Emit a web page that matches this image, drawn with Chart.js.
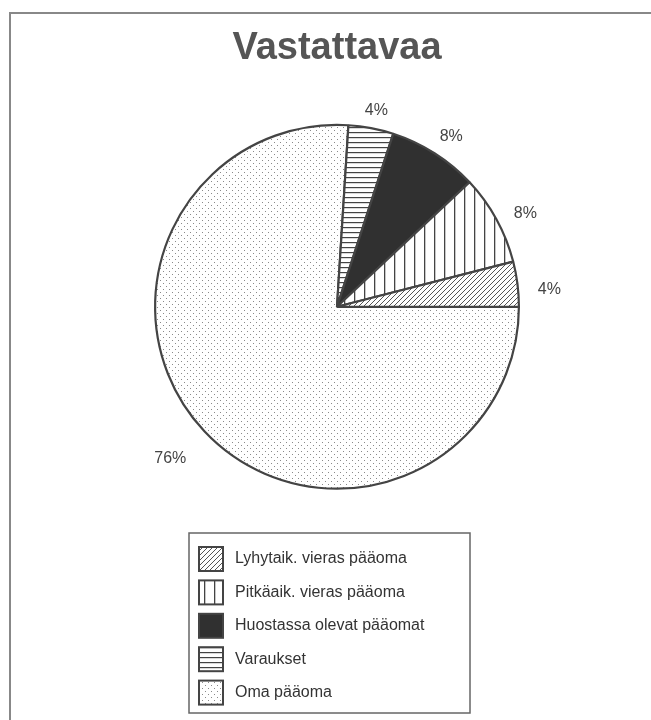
<!DOCTYPE html>
<html>
<head>
<meta charset="utf-8">
<script src="https://cdn.jsdelivr.net/npm/chart.js@4.4.1/dist/chart.umd.min.js"></script>
<style>
body { margin: 0; background: #fff; }
canvas { display: block; }
</style>
</head>
<body>
<canvas id="graph" width="651" height="720"></canvas>
<script>
// legend order (top to bottom)
const categories = ['Lyhytaik. vieras pääoma', 'Pitkäaik. vieras pääoma', 'Huostassa olevat pääomat', 'Varaukset', 'Oma pääoma'];
const shares = [4, 8, 8, 4, 76]; // %
const fills = ['diagonal', 'vertical', 'solid', 'horizontal', 'dots'];

const ink = '#444';
const font = '"Liberation Sans", Arial, sans-serif';

function makePattern(kind) {
    const size = {diagonal: 5, vertical: 10, solid: 4, horizontal: 5, dots: 6}[kind];
    const tile = document.createElement('canvas');
    tile.width = size;
    tile.height = size;
    const c = tile.getContext('2d');
    c.fillStyle = kind == 'solid' ? '#303030' : '#fff';
    c.fillRect(0, 0, size, size);
    c.strokeStyle = '#555';
    c.fillStyle = '#8a8a8a';
    c.lineWidth = 1;
    if (kind == 'diagonal') {
        c.beginPath();
        c.moveTo(0, size); c.lineTo(size, 0);
        c.moveTo(-1, 1); c.lineTo(1, -1);
        c.moveTo(size - 1, size + 1); c.lineTo(size + 1, size - 1);
        c.stroke();
    } else if (kind == 'vertical') {
        c.fillStyle = '#444';
        c.fillRect(4, 0, 1.3, size);
    } else if (kind == 'horizontal') {
        c.fillStyle = '#444';
        c.fillRect(0, 2, size, 1.2);
    } else if (kind == 'dots') {
        c.fillRect(1, 1, 1, 1);
        c.fillRect(4, 4, 1, 1);
    }
    return c.createPattern(tile, 'repeat');
}

const patterns = fills.map(makePattern);

// the pie runs counter-clockwise from 3 o'clock, so feed it reversed
const pieLabels = categories.slice().reverse();
const pieValues = shares.slice().reverse();
const piePatterns = patterns.slice().reverse();

const frame = {
    id: 'frame',
    beforeDraw(chart) {
        const ctx = chart.ctx;
        ctx.save();
        ctx.strokeStyle = '#888';
        ctx.lineWidth = 2;
        ctx.beginPath();
        ctx.moveTo(10, 720);
        ctx.lineTo(10, 13);
        ctx.lineTo(651, 13);
        ctx.stroke();
        ctx.restore();
    }
};

const percentLabels = {
    id: 'percentLabels',
    afterDatasetsDraw(chart) {
        const ctx = chart.ctx;
        const meta = chart.getDatasetMeta(0);
        ctx.save();
        ctx.font = '16px ' + font;
        ctx.fillStyle = '#444';
        ctx.textAlign = 'center';
        ctx.textBaseline = 'middle';
        meta.data.forEach((arc, i) => {
            const p = arc.getProps(['x', 'y', 'startAngle', 'endAngle', 'outerRadius'], true);
            const mid = (p.startAngle + p.endAngle) / 2;
            const text = pieValues[i] + '%';
            const w = ctx.measureText(text).width;
            const dx = Math.cos(mid), dy = Math.sin(mid);
            const r = p.outerRadius + 20 + Math.abs(dx) * w / 2 + Math.abs(dy) * 6;
            ctx.fillText(text, p.x + dx * r - (dx < 0 ? 8 : 0), p.y + dy * r + (dy < 0 ? 10 : 3));
        });
        ctx.restore();
    }
};

const boxLegend = {
    id: 'boxLegend',
    afterDraw(chart) {
        const ctx = chart.ctx;
        ctx.save();
        ctx.strokeStyle = '#666';
        ctx.lineWidth = 1.5;
        ctx.strokeRect(189, 533, 281, 180);
        ctx.font = '16px ' + font;
        ctx.textBaseline = 'middle';
        categories.forEach((name, i) => {
            const cy = 559 + i * 33.4;
            ctx.fillStyle = patterns[i];
            ctx.fillRect(199, cy - 12, 24, 24);
            ctx.strokeStyle = ink;
            ctx.lineWidth = 2;
            ctx.strokeRect(199, cy - 12, 24, 24);
            ctx.fillStyle = '#333';
            ctx.fillText(name, 235, cy);
        });
        ctx.restore();
    }
};

new Chart(document.querySelector('#graph'), {
    type: 'pie',
    data: {
        labels: pieLabels,
        datasets: [{
            data: pieValues,
            backgroundColor: piePatterns,
            borderColor: ink,
            borderWidth: 2.2,
            borderAlign: 'center'
        }]
    },
    options: {
        responsive: false,
        animation: false,
        rotation: 90,
        layout: { padding: { left: 154, right: 131, top: 0, bottom: 230 } },
        plugins: {
            legend: { display: false },
            tooltip: { enabled: false },
            title: {
                display: true,
                text: 'Vastattavaa',
                color: '#555',
                font: { family: font, size: 38, weight: 'bold', lineHeight: 1.2 },
                padding: { top: 26, bottom: 52 }
            }
        }
    },
    plugins: [frame, percentLabels, boxLegend]
});
</script>
</body>
</html>
